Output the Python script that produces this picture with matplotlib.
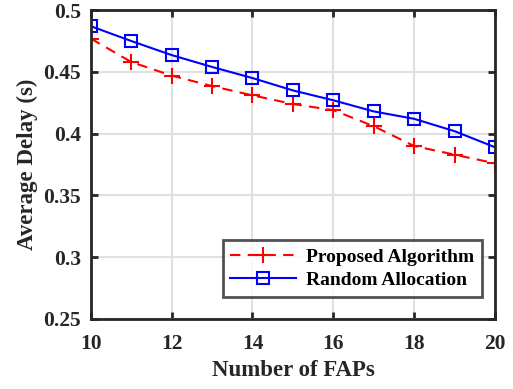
import matplotlib.pyplot as plt

# --- Donnees ---
n_faps = [10, 11, 12, 13, 14, 15, 16, 17, 18, 19, 20]
proposed = [0.477, 0.458, 0.447, 0.4385, 0.431, 0.424, 0.419, 0.406, 0.390, 0.383, 0.376]
random_alloc = [0.487, 0.475, 0.4636, 0.454, 0.445, 0.435, 0.427, 0.418, 0.412, 0.402, 0.389]

plt.rcParams['font.family'] = ['Liberation Serif', 'DejaVu Serif']
plt.rcParams['font.weight'] = 'bold'

fig = plt.figure(figsize=(5.13, 3.89), dpi=100)
ax = fig.add_axes([0.177, 0.18, 0.788, 0.794])

ax.plot(n_faps, proposed, color='red', linestyle='--', dashes=(5, 3.5), marker='+',
        markersize=12, markeredgewidth=1.5, linewidth=1.5, label='Proposed Algorithm')
ax.plot(n_faps, random_alloc, 'b-', marker='s', markersize=9, markerfacecolor='none',
        markeredgewidth=1.5, linewidth=1.5, label='Random Allocation')

ax.set_xlim(10, 20)
ax.set_ylim(0.25, 0.5)
ax.set_xticks([10, 12, 14, 16, 18, 20])
ax.set_yticks([0.25, 0.3, 0.35, 0.4, 0.45, 0.5])
ax.set_yticklabels(['0.25', '0.3', '0.35', '0.4', '0.45', '0.5'])

ax.grid(True, color='#e0e0e0', linewidth=1.5)
ax.set_axisbelow(True)
for s in ax.spines.values():
    s.set_linewidth(2)
    s.set_color('#262626')
ax.tick_params(direction='in', length=5, width=2, labelsize=15.5, colors='#262626',
               top=True, right=True)
ax.tick_params(axis='x', pad=11)
ax.tick_params(axis='y', pad=7)

ax.set_xlabel('Number of FAPs', fontsize=16.5, fontweight='bold', color='#262626')
ax.set_ylabel('Average Delay (s)', fontsize=16.5, fontweight='bold', color='#262626')

leg = ax.legend(loc='lower right', fontsize=14, frameon=True, fancybox=False,
                edgecolor='#262626', borderpad=0.4, handlelength=3.4, labelspacing=0.3,
                handletextpad=0.5, borderaxespad=0, bbox_to_anchor=(0.968, 0.071))
leg.get_frame().set_linewidth(2)

fig.savefig('out.png', dpi=100)
